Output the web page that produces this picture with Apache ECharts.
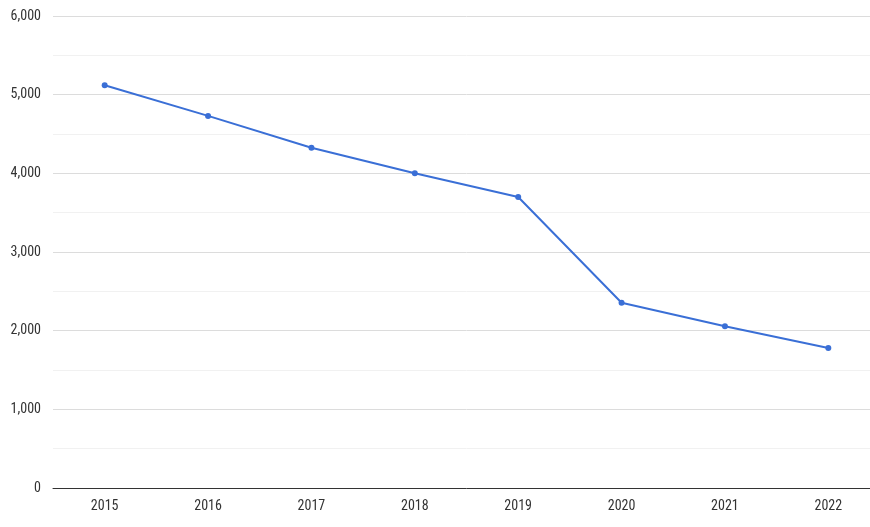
<!DOCTYPE html>
<html>
<head>
<meta charset="utf-8">
<script src="https://cdn.jsdelivr.net/npm/echarts@6/dist/echarts.min.js"></script>
<style>html,body{margin:0;padding:0;background:#fff;overflow:hidden;width:870px;height:527px;}#c{width:880px;height:527px;}</style>
</head>
<body>
<div id="c"></div>
<script>
const categories = ['2015','2016','2017','2018','2019','2020','2021','2022'];
const values = [5120, 4730, 4325, 4000, 3700, 2355, 2055, 1780];
const yTicks = [0, 1000, 2000, 3000, 4000, 5000, 6000];

const font = '"Liberation Sans Narrow", "Roboto Condensed", "Liberation Sans", Arial, sans-serif';
const chart = echarts.init(document.getElementById('c'), null, {renderer: 'canvas'});
chart.setOption({
  animation: false,
  grid: {left: 53, right: 0, top: 16, bottom: 39, containLabel: false},
  xAxis: {
    type: 'category',
    data: categories,
    boundaryGap: true,
    axisLine: {show: true, lineStyle: {color: '#333', width: 1}},
    axisTick: {show: false},
    axisLabel: {color: '#333', fontFamily: font, fontSize: 14, margin: 11}
  },
  yAxis: {
    type: 'value',
    min: yTicks[0],
    max: yTicks[yTicks.length - 1],
    interval: 1000,
    axisLine: {show: false},
    axisTick: {show: false},
    axisLabel: {color: '#333', fontFamily: font, fontSize: 14, margin: 12,
      formatter: v => v.toLocaleString('en-US')},
    splitLine: {show: true, lineStyle: {color: '#dcdcdc', width: 1}},
    minorTick: {show: false, splitNumber: 2},
    minorSplitLine: {show: true, lineStyle: {color: '#f1f1f1', width: 1}}
  },
  series: [{
    type: 'line',
    data: values,
    lineStyle: {color: '#3a6fd6', width: 2},
    itemStyle: {color: '#3a6fd6'},
    symbol: 'circle',
    symbolSize: 6,
    showSymbol: true
  }]
});
</script>
</body>
</html>
